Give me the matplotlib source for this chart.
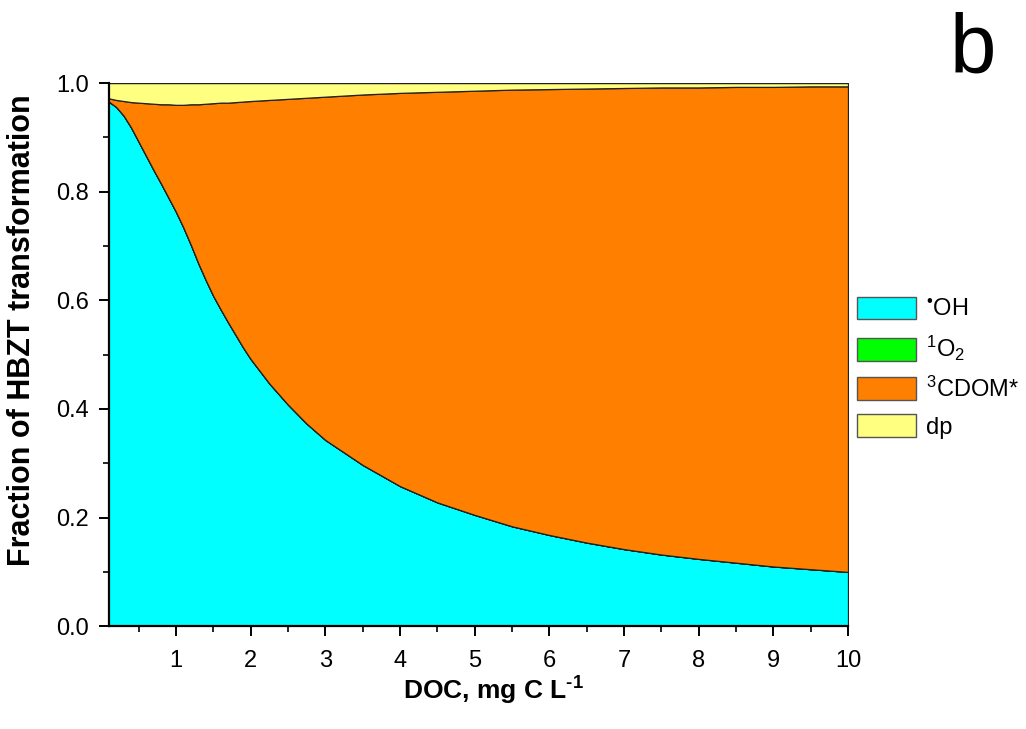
import numpy as np
import matplotlib
matplotlib.use("Agg")
import matplotlib.pyplot as plt
from matplotlib.patches import Patch
from matplotlib.ticker import MultipleLocator

plt.rcParams['font.family'] = ['Liberation Sans', 'DejaVu Sans']
plt.rcParams['mathtext.fontset'] = 'custom'
plt.rcParams['mathtext.rm'] = 'Liberation Sans'
plt.rcParams['mathtext.bf'] = 'Liberation Sans:bold'
plt.rcParams['mathtext.default'] = 'regular'

# DOC, mg C/L
doc = [0.1, 0.2, 0.3, 0.4, 0.5, 0.6, 0.7, 0.8, 0.9, 1.0,
       1.1, 1.2, 1.3, 1.4, 1.5, 1.6, 1.7, 1.8, 1.9, 2.0,
       2.25, 2.5, 2.75, 3.0, 3.5, 4.0, 4.5, 5.0, 5.5, 6.0,
       6.5, 7.0, 7.5, 8.0, 8.5, 9.0, 9.5, 10.0]

# fraction of HBZT transformation by each pathway
f_oh = [0.966, 0.956, 0.940, 0.918, 0.892, 0.866, 0.840, 0.815, 0.789, 0.763,
        0.734, 0.702, 0.668, 0.637, 0.608, 0.583, 0.559, 0.536, 0.513, 0.492,
        0.447, 0.408, 0.373, 0.343, 0.297, 0.258, 0.228, 0.205, 0.184, 0.168,
        0.154, 0.142, 0.132, 0.124, 0.117, 0.110, 0.105, 0.100]
f_o2 = [0.0] * len(doc)
f_cdom = [0.006, 0.013, 0.027, 0.047, 0.072, 0.097, 0.122, 0.146, 0.172, 0.197,
          0.226, 0.259, 0.293, 0.325, 0.355, 0.381, 0.405, 0.429, 0.453, 0.475,
          0.522, 0.563, 0.600, 0.632, 0.682, 0.724, 0.756, 0.781, 0.804, 0.821,
          0.836, 0.849, 0.860, 0.868, 0.876, 0.883, 0.889, 0.894]
f_dp = [0.028, 0.031, 0.033, 0.035, 0.036, 0.037, 0.038, 0.039, 0.039, 0.040,
        0.040, 0.039, 0.039, 0.038, 0.037, 0.036, 0.036, 0.035, 0.034, 0.033,
        0.031, 0.029, 0.027, 0.025, 0.021, 0.018, 0.016, 0.014, 0.012, 0.011,
        0.010, 0.009, 0.008, 0.008, 0.007, 0.007, 0.006, 0.006]

labels = ['$^{\u2022}$OH', r'$^{1}$O$_{2}$', r'$^{3}$CDOM*', 'dp']
colors = ['#00FFFF', '#00FF00', '#FF8000', '#FFFF80']

fig = plt.figure(figsize=(10.26, 7.29), dpi=100)
ax = fig.add_axes([0.106, 0.141, 0.7205, 0.745])

ax.stackplot(doc, f_oh, f_o2, f_cdom, f_dp, colors=colors,
             edgecolor='#222222', linewidth=0.9)

ax.set_xlim(0.1, 10)
ax.set_ylim(0, 1.0)
ax.xaxis.set_major_locator(MultipleLocator(1))
ax.xaxis.set_minor_locator(MultipleLocator(0.5))
ax.yaxis.set_minor_locator(MultipleLocator(0.1))
ax.set_yticks([0.0, 0.2, 0.4, 0.6, 0.8, 1.0])
ax.set_yticklabels(['0.0', '0.2', '0.4', '0.6', '0.8', '1.0'])

for s in ['top', 'right']:
    ax.spines[s].set_visible(False)
for s in ['left', 'bottom']:
    ax.spines[s].set_linewidth(1.6)
ax.tick_params(which='major', direction='out', length=7, width=1.4,
               labelsize=17, pad=7)
ax.tick_params(axis='x', which='major', pad=10)
ax.tick_params(which='minor', direction='out', length=4, width=1.2)

ax.set_xlabel('DOC, mg C L$^{\u2010 1}$', fontsize=19, fontweight='bold')
ax.xaxis.set_label_coords(0.52, -0.09)
ax.set_ylabel('Fraction of HBZT transformation', fontsize=22,
              fontweight='bold')
ax.yaxis.set_label_coords(-0.097, 0.545)

handles = [Patch(facecolor=c, edgecolor='#555555', linewidth=1) for c in colors]
fig.legend(handles, labels, loc='upper left', bbox_to_anchor=(0.815, 0.622),
           frameon=False, fontsize=17, handlelength=2.5, handleheight=1.1,
           labelspacing=0.55, handletextpad=0.4)

fig.text(0.948, 0.901, 'b', fontsize=60, ha='center', va='baseline')

fig.savefig('out.png', dpi=100)
